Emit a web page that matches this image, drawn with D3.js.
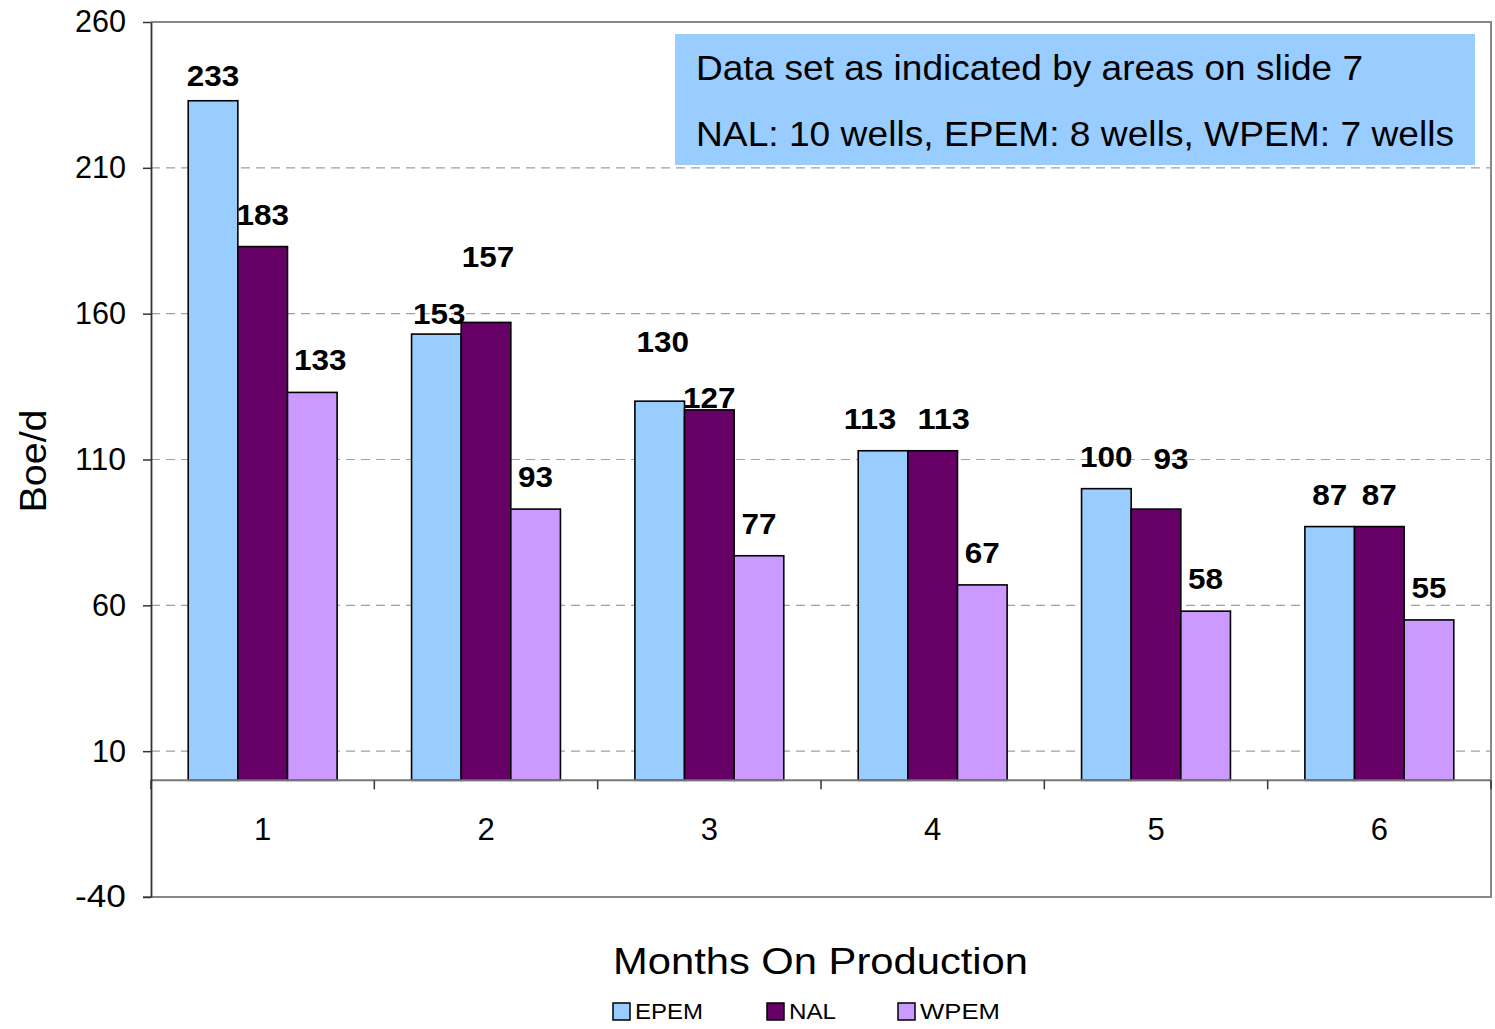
<!DOCTYPE html>
<html>
<head>
<meta charset="utf-8">
<script src="https://cdn.jsdelivr.net/npm/d3@7"></script>
<style>
  body { margin: 0; background: #fff; }
  svg { display: block; font-family: "Liberation Sans", Arial, sans-serif; }
</style>
</head>
<body>
<svg id="chart" width="1495" height="1029"></svg>
<script>
// data
const months = ["1", "2", "3", "4", "5", "6"];
const seriesNames = ["EPEM", "NAL", "WPEM"];
const epem = [233, 153, 130, 113, 100, 87];
const nal = [183, 157, 127, 113, 93, 87];
const wpem = [133, 93, 77, 67, 58, 55];
const yTicks = [-40, 10, 60, 110, 160, 210, 260];
const noteLines = ["Data set as indicated by areas on slide 7",
                   "NAL: 10 wells, EPEM: 8 wells, WPEM: 7 wells"];

const colors = { EPEM: "#99ccff", NAL: "#660066", WPEM: "#cc99ff" };
const seriesVals = { EPEM: epem, NAL: nal, WPEM: wpem };

// label nudges (px) where the original labels sit off their default spot
const nudge = {
    "0-EPEM": [0, 7], "0-WPEM": [8, 0],
    "1-EPEM": [3, 12], "1-NAL": [2, -33],
    "2-EPEM": [3, -27], "2-NAL": [0, 20],
    "3-EPEM": [-13, 0], "3-NAL": [11, 0],
    "4-NAL": [15, -18]
};

const margin = { left: 151, right: 1491, top: 22, bottom: 897 };
const svg = d3.select("#chart");

const x = d3.scaleBand().domain(months).range([margin.left, margin.right]).padding(0);
const xs = d3.scaleBand().domain(seriesNames)
    .range([x.bandwidth() / 6, x.bandwidth() * 5 / 6]).padding(0);
const y = d3.scaleLinear().domain([-40, 260]).range([margin.bottom, margin.top]);

// grid lines
svg.append("g")
    .selectAll("line")
    .data(yTicks.filter(d => d > -40 && d < 260))
    .join("line")
    .attr("x1", margin.left).attr("x2", margin.right)
    .attr("y1", d => y(d)).attr("y2", d => y(d))
    .attr("stroke", "#a0a0a0").attr("stroke-width", 1.2)
    .attr("stroke-dasharray", "9,6");

// plot border (top, right, bottom)
svg.append("path")
    .attr("d", `M${margin.left},${y(260)}H${margin.right}V${y(-40)}H${margin.left - 8}`)
    .attr("fill", "none").attr("stroke", "#888").attr("stroke-width", 2);

// bars
const data = [];
months.forEach((m, i) => seriesNames.forEach(s => data.push({ m, i, s, v: seriesVals[s][i] })));

svg.append("g")
    .selectAll("rect")
    .data(data)
    .join("rect")
    .attr("x", d => x(d.m) + xs(d.s))
    .attr("width", xs.bandwidth())
    .attr("y", d => y(d.v))
    .attr("height", d => y(0) - y(d.v))
    .attr("fill", d => colors[d.s])
    .attr("stroke", "#000").attr("stroke-width", 1.6);

// zero line and x ticks
svg.append("line")
    .attr("x1", margin.left).attr("x2", margin.right)
    .attr("y1", y(0)).attr("y2", y(0))
    .attr("stroke", "#777").attr("stroke-width", 2);

const xAxis = svg.append("g")
    .attr("transform", `translate(0,${y(0)})`)
    .call(d3.axisBottom(x).tickSize(0).tickPadding(38))
    .call(g => g.select(".domain").remove());
xAxis.selectAll("text")
    .attr("font-size", 31).attr("fill", "#000")
    .attr("font-family", "Liberation Sans, Arial, sans-serif");

svg.append("g")
    .selectAll("line")
    .data(months.map(m => x(m)).concat([margin.right]))
    .join("line")
    .attr("x1", d => d).attr("x2", d => d)
    .attr("y1", y(0)).attr("y2", y(0) + 9)
    .attr("stroke", "#333").attr("stroke-width", 1.5);

// y axis
const yAxis = svg.append("g")
    .attr("transform", `translate(${margin.left},0)`)
    .call(d3.axisLeft(y).tickValues(yTicks).tickFormat(d => String(d))
        .tickSize(8).tickPadding(17).tickSizeOuter(0));
yAxis.select(".domain").attr("stroke", "#333").attr("stroke-width", 1.8);
yAxis.selectAll(".tick line").attr("stroke", "#333").attr("stroke-width", 1.5);
yAxis.selectAll("text")
    .attr("font-size", 31).attr("fill", "#000")
    .attr("textLength", d => String(d).length * 17)
    .attr("lengthAdjust", "spacingAndGlyphs")
    .attr("font-family", "Liberation Sans, Arial, sans-serif");

// value labels
svg.append("g")
    .selectAll("text")
    .data(data)
    .join("text")
    .attr("x", d => x(d.m) + xs(d.s) + xs.bandwidth() / 2 + (nudge[d.i + "-" + d.s] || [0, 0])[0])
    .attr("y", d => y(d.v) - 22 + (nudge[d.i + "-" + d.s] || [0, 0])[1])
    .attr("text-anchor", "middle")
    .attr("font-size", 30).attr("font-weight", "bold")
    .attr("textLength", d => String(d.v).length * 17.5)
    .attr("lengthAdjust", "spacingAndGlyphs")
    .text(d => d.v);

// note box
svg.append("rect")
    .attr("x", 675).attr("y", 34).attr("width", 800).attr("height", 131)
    .attr("fill", "#99ccff");
svg.append("g")
    .selectAll("text")
    .data(noteLines)
    .join("text")
    .attr("x", 696)
    .attr("y", (d, i) => 80 + i * 66)
    .attr("font-size", 35)
    .attr("textLength", (d, i) => [667, 758][i])
    .attr("lengthAdjust", "spacingAndGlyphs")
    .text(d => d);

// axis titles
svg.append("text")
    .attr("transform", "translate(46,461) rotate(-90)")
    .attr("text-anchor", "middle")
    .attr("font-size", 36)
    .attr("textLength", 103).attr("lengthAdjust", "spacingAndGlyphs")
    .text("Boe/d");

svg.append("text")
    .attr("x", 613).attr("y", 974)
    .attr("font-size", 36)
    .attr("textLength", 415).attr("lengthAdjust", "spacingAndGlyphs")
    .text("Months On Production");

// legend
const legendX = [613, 767, 898];
const legendW = [68, 47, 80];
const legend = svg.append("g")
    .selectAll("g")
    .data(seriesNames)
    .join("g")
    .attr("transform", (d, i) => `translate(${legendX[i]},1003)`);
legend.append("rect")
    .attr("width", 17).attr("height", 17)
    .attr("fill", d => colors[d])
    .attr("stroke", "#000").attr("stroke-width", 1.5);
legend.append("text")
    .attr("x", 22).attr("y", 16)
    .attr("font-size", 22)
    .attr("textLength", (d, i) => legendW[i]).attr("lengthAdjust", "spacingAndGlyphs")
    .text(d => d);
</script>
</body>
</html>
